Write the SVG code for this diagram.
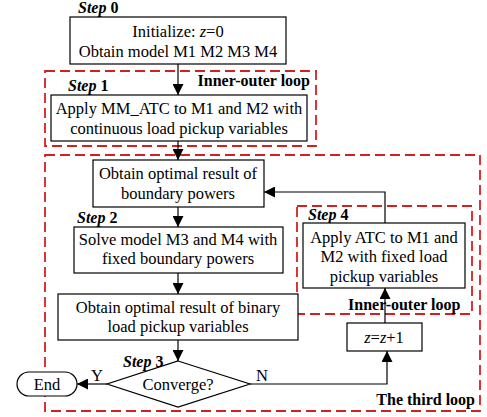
<svg xmlns="http://www.w3.org/2000/svg" width="487" height="417" viewBox="0 0 487 417">
<defs>
<marker id="ah" viewBox="0 0 10 10" refX="10" refY="5" markerWidth="11" markerHeight="11" markerUnits="userSpaceOnUse" orient="auto">
<path d="M0,0 L10,5 L0,10 Z" fill="#000"/>
</marker>
</defs>
<style>
.box{fill:#fff;stroke:#000;stroke-width:1.2}
.loop{fill:none;stroke:#d42020;stroke-width:1.8;stroke-dasharray:10 5}
.c{fill:none;stroke:#000;stroke-width:1.2}
</style>
<rect width="487" height="417" fill="#fff"/>
<g id="loops">
<rect class="loop" x="45" y="71" width="271" height="75"/>
<text x="310" y="86" text-anchor="end" font-family="Liberation Serif" font-size="16" font-weight="bold">Inner-outer loop</text>
<rect class="loop" x="45" y="155" width="435" height="256"/>
<text x="475" y="405" text-anchor="end" font-family="Liberation Serif" font-size="16" font-weight="bold">The third loop</text>
<rect class="loop" x="297" y="206" width="175" height="108"/>
</g>
<g id="connectors">
<path class="c" d="M178,64 V95" marker-end="url(#ah)"/>
<path class="c" d="M178,141 V160" marker-end="url(#ah)"/>
<path class="c" d="M178,207 V227" marker-end="url(#ah)"/>
<path class="c" d="M178,273 V294" marker-end="url(#ah)"/>
<path class="c" d="M178,340 V361" marker-end="url(#ah)"/>
<path class="c" d="M107,384 H77" marker-end="url(#ah)"/>
<path class="c" d="M250,384 H387 V351" marker-end="url(#ah)"/>
<path class="c" d="M385,323 V288" marker-end="url(#ah)"/>
<path class="c" d="M385,223 V192 H264" marker-end="url(#ah)"/>
<text x="97" y="381" text-anchor="middle" font-family="Liberation Serif" font-size="16.5">Y</text>
<text x="262" y="381" text-anchor="middle" font-family="Liberation Serif" font-size="16.5">N</text>
</g>
<text x="348" y="310" font-family="Liberation Serif" font-size="16" font-weight="bold">Inner-outer loop</text>
<g id="step0">
<text x="78" y="13" font-family="Liberation Serif" font-size="16" font-weight="bold"><tspan font-style="italic">Step</tspan> 0</text>
<rect class="box" x="70" y="17" width="216" height="47"/>
<text x="178" y="37" text-anchor="middle" font-family="Liberation Serif" font-size="16.5">Initialize: <tspan font-style="italic">z</tspan>=0</text>
<text x="178" y="57" text-anchor="middle" font-family="Liberation Serif" font-size="16.5">Obtain model M1 M2 M3 M4</text>
</g>
<g id="step1">
<text x="68" y="91" font-family="Liberation Serif" font-size="16" font-weight="bold"><tspan font-style="italic">Step</tspan> 1</text>
<rect class="box" x="51" y="95" width="256" height="46"/>
<text x="179" y="114" text-anchor="middle" font-family="Liberation Serif" font-size="16.5">Apply MM_ATC to M1 and M2 with</text>
<text x="179" y="134" text-anchor="middle" font-family="Liberation Serif" font-size="16.5">continuous load pickup variables</text>
</g>
<g id="boundary">
<rect class="box" x="93" y="160" width="171" height="47"/>
<text x="178" y="179" text-anchor="middle" font-family="Liberation Serif" font-size="16.5">Obtain optimal result of</text>
<text x="178" y="199" text-anchor="middle" font-family="Liberation Serif" font-size="16.5">boundary powers</text>
</g>
<g id="step2">
<text x="77" y="223" font-family="Liberation Serif" font-size="16" font-weight="bold"><tspan font-style="italic">Step</tspan> 2</text>
<rect class="box" x="74" y="227" width="209" height="46"/>
<text x="178" y="245" text-anchor="middle" font-family="Liberation Serif" font-size="16.5">Solve model M3 and M4 with</text>
<text x="178" y="264" text-anchor="middle" font-family="Liberation Serif" font-size="16.5">fixed boundary powers</text>
</g>
<g id="binary">
<rect class="box" x="58" y="294" width="240" height="46"/>
<text x="178" y="313" text-anchor="middle" font-family="Liberation Serif" font-size="16.5">Obtain optimal result of binary</text>
<text x="178" y="332" text-anchor="middle" font-family="Liberation Serif" font-size="16.5">load pickup variables</text>
</g>
<g id="step3">
<path class="box" d="M178,361 L250,384 L178,407 L107,384 Z"/>
<text x="178" y="390" text-anchor="middle" font-family="Liberation Serif" font-size="16.5">Converge?</text>
<text x="123" y="367" font-family="Liberation Serif" font-size="16" font-weight="bold"><tspan font-style="italic">Step</tspan> 3</text>
</g>
<g id="end">
<rect class="box" x="17" y="372" width="60" height="24" rx="12" ry="12"/>
<text x="47" y="390" text-anchor="middle" font-family="Liberation Serif" font-size="16.5">End</text>
</g>
<g id="step4">
<text x="308" y="220" font-family="Liberation Serif" font-size="16" font-weight="bold"><tspan font-style="italic">Step</tspan> 4</text>
<rect class="box" x="303" y="223" width="162" height="65"/>
<text x="384" y="243" text-anchor="middle" font-family="Liberation Serif" font-size="16.5">Apply ATC to M1 and</text>
<text x="384" y="262" text-anchor="middle" font-family="Liberation Serif" font-size="16.5">M2 with fixed load</text>
<text x="384" y="282" text-anchor="middle" font-family="Liberation Serif" font-size="16.5">pickup variables</text>
</g>
<g id="incr">
<rect class="box" x="347" y="323" width="75" height="28"/>
<text x="384" y="343" text-anchor="middle" font-family="Liberation Serif" font-size="16.5"><tspan font-style="italic">z</tspan>=<tspan font-style="italic">z</tspan>+1</text>
</g>
</svg>
